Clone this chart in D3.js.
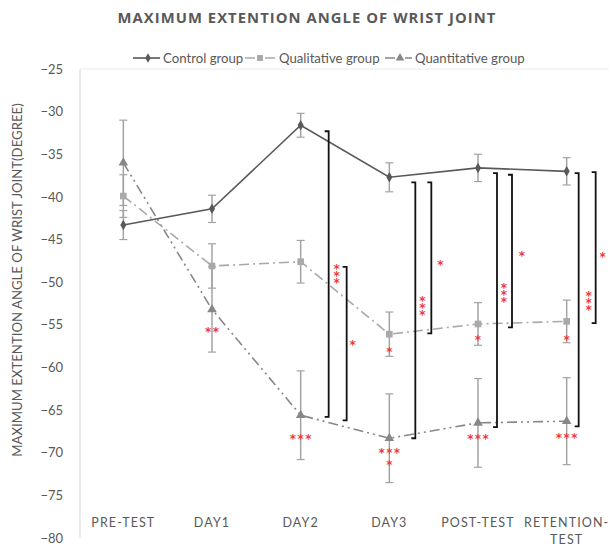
<!DOCTYPE html>
<html>
<head>
<meta charset="utf-8">
<script src="https://cdn.jsdelivr.net/npm/d3@7/dist/d3.min.js"></script>
<style>
  html, body { margin: 0; padding: 0; background: #fff; }
  svg { display: block; }
  .stack { writing-mode: vertical-rl; text-orientation: upright; letter-spacing: -6.8px; }
</style>
</head>
<body>
<svg id="chart" width="609" height="549"></svg>
<script>
// Sessions along the x axis
const categories = ["PRE-TEST", "DAY1", "DAY2", "DAY3", "POST-TEST", "RETENTION-TEST"];

// Group means (degrees) and their error-bar half widths
const controlMean = [-43.3, -41.4, -31.6, -37.7, -36.6, -37.0];
const controlErr = [1.7, 1.6, 1.4, 1.7, 1.6, 1.6];
const qualitativeMean = [-39.9, -48.1, -47.6, -56.1, -54.9, -54.6];
const qualitativeErr = [2.5, 2.6, 2.5, 2.6, 2.5, 2.5];
const quantitativeMean = [-36.0, -53.2, -65.6, -68.3, -66.5, -66.3];
const quantitativeErr = [5.0, 5.0, 5.2, 5.2, 5.2, 5.1];

const yTicks = [-25, -30, -35, -40, -45, -50, -55, -60, -65, -70, -75, -80];

// Significance brackets between groups: session, upper and lower value, marker
const bracketSession = ["DAY2", "DAY2", "DAY3", "DAY3", "POST-TEST", "POST-TEST", "RETENTION-TEST", "RETENTION-TEST"];
const bracketTop = [-32.3, -48.2, -38.3, -38.3, -37.2, -37.4, -37.2, -37.1];
const bracketBottom = [-65.8, -66.2, -68.3, -56.0, -67.0, -55.3, -66.9, -54.8];
const bracketMark = ["***", "*", "***", "*", "***", "*", "***", "*"];
const bracketMarkAt = [-49.1, -57.2, -52.8, -47.8, -51.3, -46.7, -52.2, -46.8];

// Significance marks printed below single points
const markSession = ["DAY1", "DAY2", "DAY3", "DAY3", "DAY3", "POST-TEST", "POST-TEST", "RETENTION-TEST", "RETENTION-TEST"];
const markValue = [-55.6, -68.1, -58.0, -69.8, -71.2, -56.6, -68.1, -56.5, -68.0];
const markText = ["**", "***", "*", "***", "*", "*", "***", "*", "***"];

// Layout of the bracket columns (pixel offsets right of the session centre)
const bracketDx = [28, 46, 26, 42, 19, 34, 12, 29];
const bracketMarkDx = [36, 52, 33, 51, 26, 44, 22, 36];

const svg = d3.select("#chart");
const W = 609, H = 549;
const plotLeft = 79, plotRight = 611, plotTop = 69, plotBottom = 538;

const x = d3.scaleBand().domain(categories).range([plotLeft, plotRight]);
const cx = c => x(c) + x.bandwidth() / 2;
const y = d3.scaleLinear().domain([-80, -25]).range([plotBottom, plotTop]);

const textColor = "#595959";
const font = "Lato, 'Open Sans', sans-serif";
const starColor = "#ec3a3a";
const starFont = "'DejaVu Sans', sans-serif";

// Title
svg.append("text")
  .attr("x", 307).attr("y", 23)
  .attr("text-anchor", "middle")
  .attr("font-family", "'Open Sans', sans-serif")
  .attr("font-weight", "bold")
  .attr("font-size", 14.8)
  .attr("letter-spacing", 1.05)
  .attr("fill", textColor)
  .text("MAXIMUM EXTENTION ANGLE OF WRIST JOINT");

// Plot frame (left and top edges)
svg.append("line").attr("x1", plotLeft + 1).attr("x2", plotLeft + 1).attr("y1", plotTop).attr("y2", plotBottom)
  .attr("stroke", "#d9d9d9").attr("stroke-width", 1);
svg.append("line").attr("x1", plotLeft + 1).attr("x2", W).attr("y1", plotTop).attr("y2", plotTop)
  .attr("stroke", "#ececec").attr("stroke-width", 1);

// Y axis
const yAxis = svg.append("g")
  .attr("transform", `translate(${plotLeft + 1},0)`)
  .call(d3.axisLeft(y).tickValues(yTicks).tickSize(0).tickPadding(17).tickFormat(d3.format("d")));
yAxis.select(".domain").remove();
yAxis.selectAll("text")
  .attr("font-family", font).attr("font-size", 13).attr("fill", textColor);

// Y axis title
svg.append("text")
  .attr("transform", "translate(22,280) rotate(-90)")
  .attr("text-anchor", "middle")
  .attr("font-family", font).attr("font-size", 13.2).attr("fill", textColor)
  .text("MAXIMUM EXTENTION ANGLE OF WRIST JOINT(DEGREE)");

// Category labels
const catG = svg.append("g");
categories.forEach(c => {
  const t = catG.append("text")
    .attr("x", cx(c)).attr("y", 527)
    .attr("text-anchor", "middle")
    .attr("font-family", font).attr("font-size", 12.5)
    .attr("letter-spacing", 1.1)
    .attr("fill", textColor);
  const parts = c.length > 10 ? [c.slice(0, c.indexOf("-") + 1), c.slice(c.indexOf("-") + 1)] : [c];
  parts.forEach((p, i) => {
    t.append("tspan").attr("x", cx(c)).attr("dy", i === 0 ? 0 : 17).text(p);
  });
});

// Series definitions
const series = [
  { name: "Control group", mean: controlMean, err: controlErr, color: "#595959", dash: null, marker: "diamond", width: 1.6 },
  { name: "Qualitative group", mean: qualitativeMean, err: qualitativeErr, color: "#a9a9a9", dash: "10,4,2,4", marker: "square", width: 1.6 },
  { name: "Quantitative group", mean: quantitativeMean, err: quantitativeErr, color: "#878787", dash: "10,4,2,4,2,4", marker: "triangle", width: 1.6 }
];

const symbolType = { diamond: d3.symbolDiamond, square: d3.symbolSquare, triangle: d3.symbolTriangle };
const symbolSize = { diamond: 32, square: 44, triangle: 40 };

const line = d3.line().x((d, i) => cx(categories[i])).y(d => y(d));

// Error bars
const errColor = "#a3a3a3";
series.slice().reverse().forEach(s => {
  const g = svg.append("g");
  s.mean.forEach((m, i) => {
    const px = cx(categories[i]);
    const y1 = y(m + s.err[i]), y2 = y(m - s.err[i]);
    g.append("line").attr("x1", px).attr("x2", px).attr("y1", y1).attr("y2", y2)
      .attr("stroke", errColor).attr("stroke-width", 1.5);
    [y1, y2].forEach(yy => g.append("line").attr("x1", px - 4).attr("x2", px + 4).attr("y1", yy).attr("y2", yy)
      .attr("stroke", errColor).attr("stroke-width", 1.2));
  });
});

// Lines and markers
series.slice().reverse().forEach(s => {
  svg.append("path").datum(s.mean)
    .attr("d", line)
    .attr("fill", "none")
    .attr("stroke", s.color)
    .attr("stroke-width", s.width)
    .attr("stroke-dasharray", s.dash);
  svg.append("g").selectAll("path").data(s.mean).join("path")
    .attr("transform", (d, i) => `translate(${cx(categories[i])},${y(d)})`)
    .attr("d", d3.symbol().type(symbolType[s.marker]).size(symbolSize[s.marker]))
    .attr("fill", s.color);
});

// Significance brackets with their vertically stacked marks
const bG = svg.append("g");
bracketSession.forEach((c, i) => {
  const bx = cx(c) + bracketDx[i];
  const yt = y(bracketTop[i]), yb = y(bracketBottom[i]);
  bG.append("path")
    .attr("d", `M${bx - 4},${yt} H${bx} V${yb} H${bx - 4}`)
    .attr("fill", "none").attr("stroke", "#111").attr("stroke-width", 1.8);
  const mx = cx(c) + bracketMarkDx[i];
  const n = bracketMark[i].length;
  const step = 7.2;
  // one upright vertical run of marks, centred on the mark value
  bG.append("text")
    .attr("class", "stack")
    .attr("x", mx)
    .attr("y", y(bracketMarkAt[i]) - (n * step) / 2 - 1.6)
    .attr("font-family", starFont).attr("font-size", 12).attr("font-weight", "bold")
    .attr("fill", starColor)
    .text(bracketMark[i]);
});

// Marks below individual points
markSession.forEach((c, i) => {
  svg.append("text")
    .attr("x", cx(c) + 0.7).attr("y", y(markValue[i]) + 6)
    .attr("text-anchor", "middle")
    .attr("font-family", starFont).attr("font-size", 12).attr("font-weight", "bold")
    .attr("letter-spacing", 1.4)
    .attr("fill", starColor)
    .text(markText[i]);
});

// Legend
const legend = svg.append("g").attr("font-family", font).attr("font-size", 13.2).attr("fill", textColor);
const legendX = [133, 245, 385];
const legendSample = [27, 31, 27];
series.forEach((s, i) => {
  const lx = legendX[i], ly = 58;
  legend.append("line").attr("x1", lx).attr("x2", lx + legendSample[i]).attr("y1", ly).attr("y2", ly)
    .attr("stroke", s.color).attr("stroke-width", 1.6).attr("stroke-dasharray", s.dash ? "10,4,2,4" : null);
  legend.append("path")
    .attr("transform", `translate(${lx + 15},${ly})`)
    .attr("d", d3.symbol().type(symbolType[s.marker]).size(symbolSize[s.marker] * 0.8))
    .attr("fill", s.color);
  legend.append("text").attr("x", lx + legendSample[i] + 3).attr("y", ly + 4.5).text(s.name);
});
</script>
</body>
</html>
